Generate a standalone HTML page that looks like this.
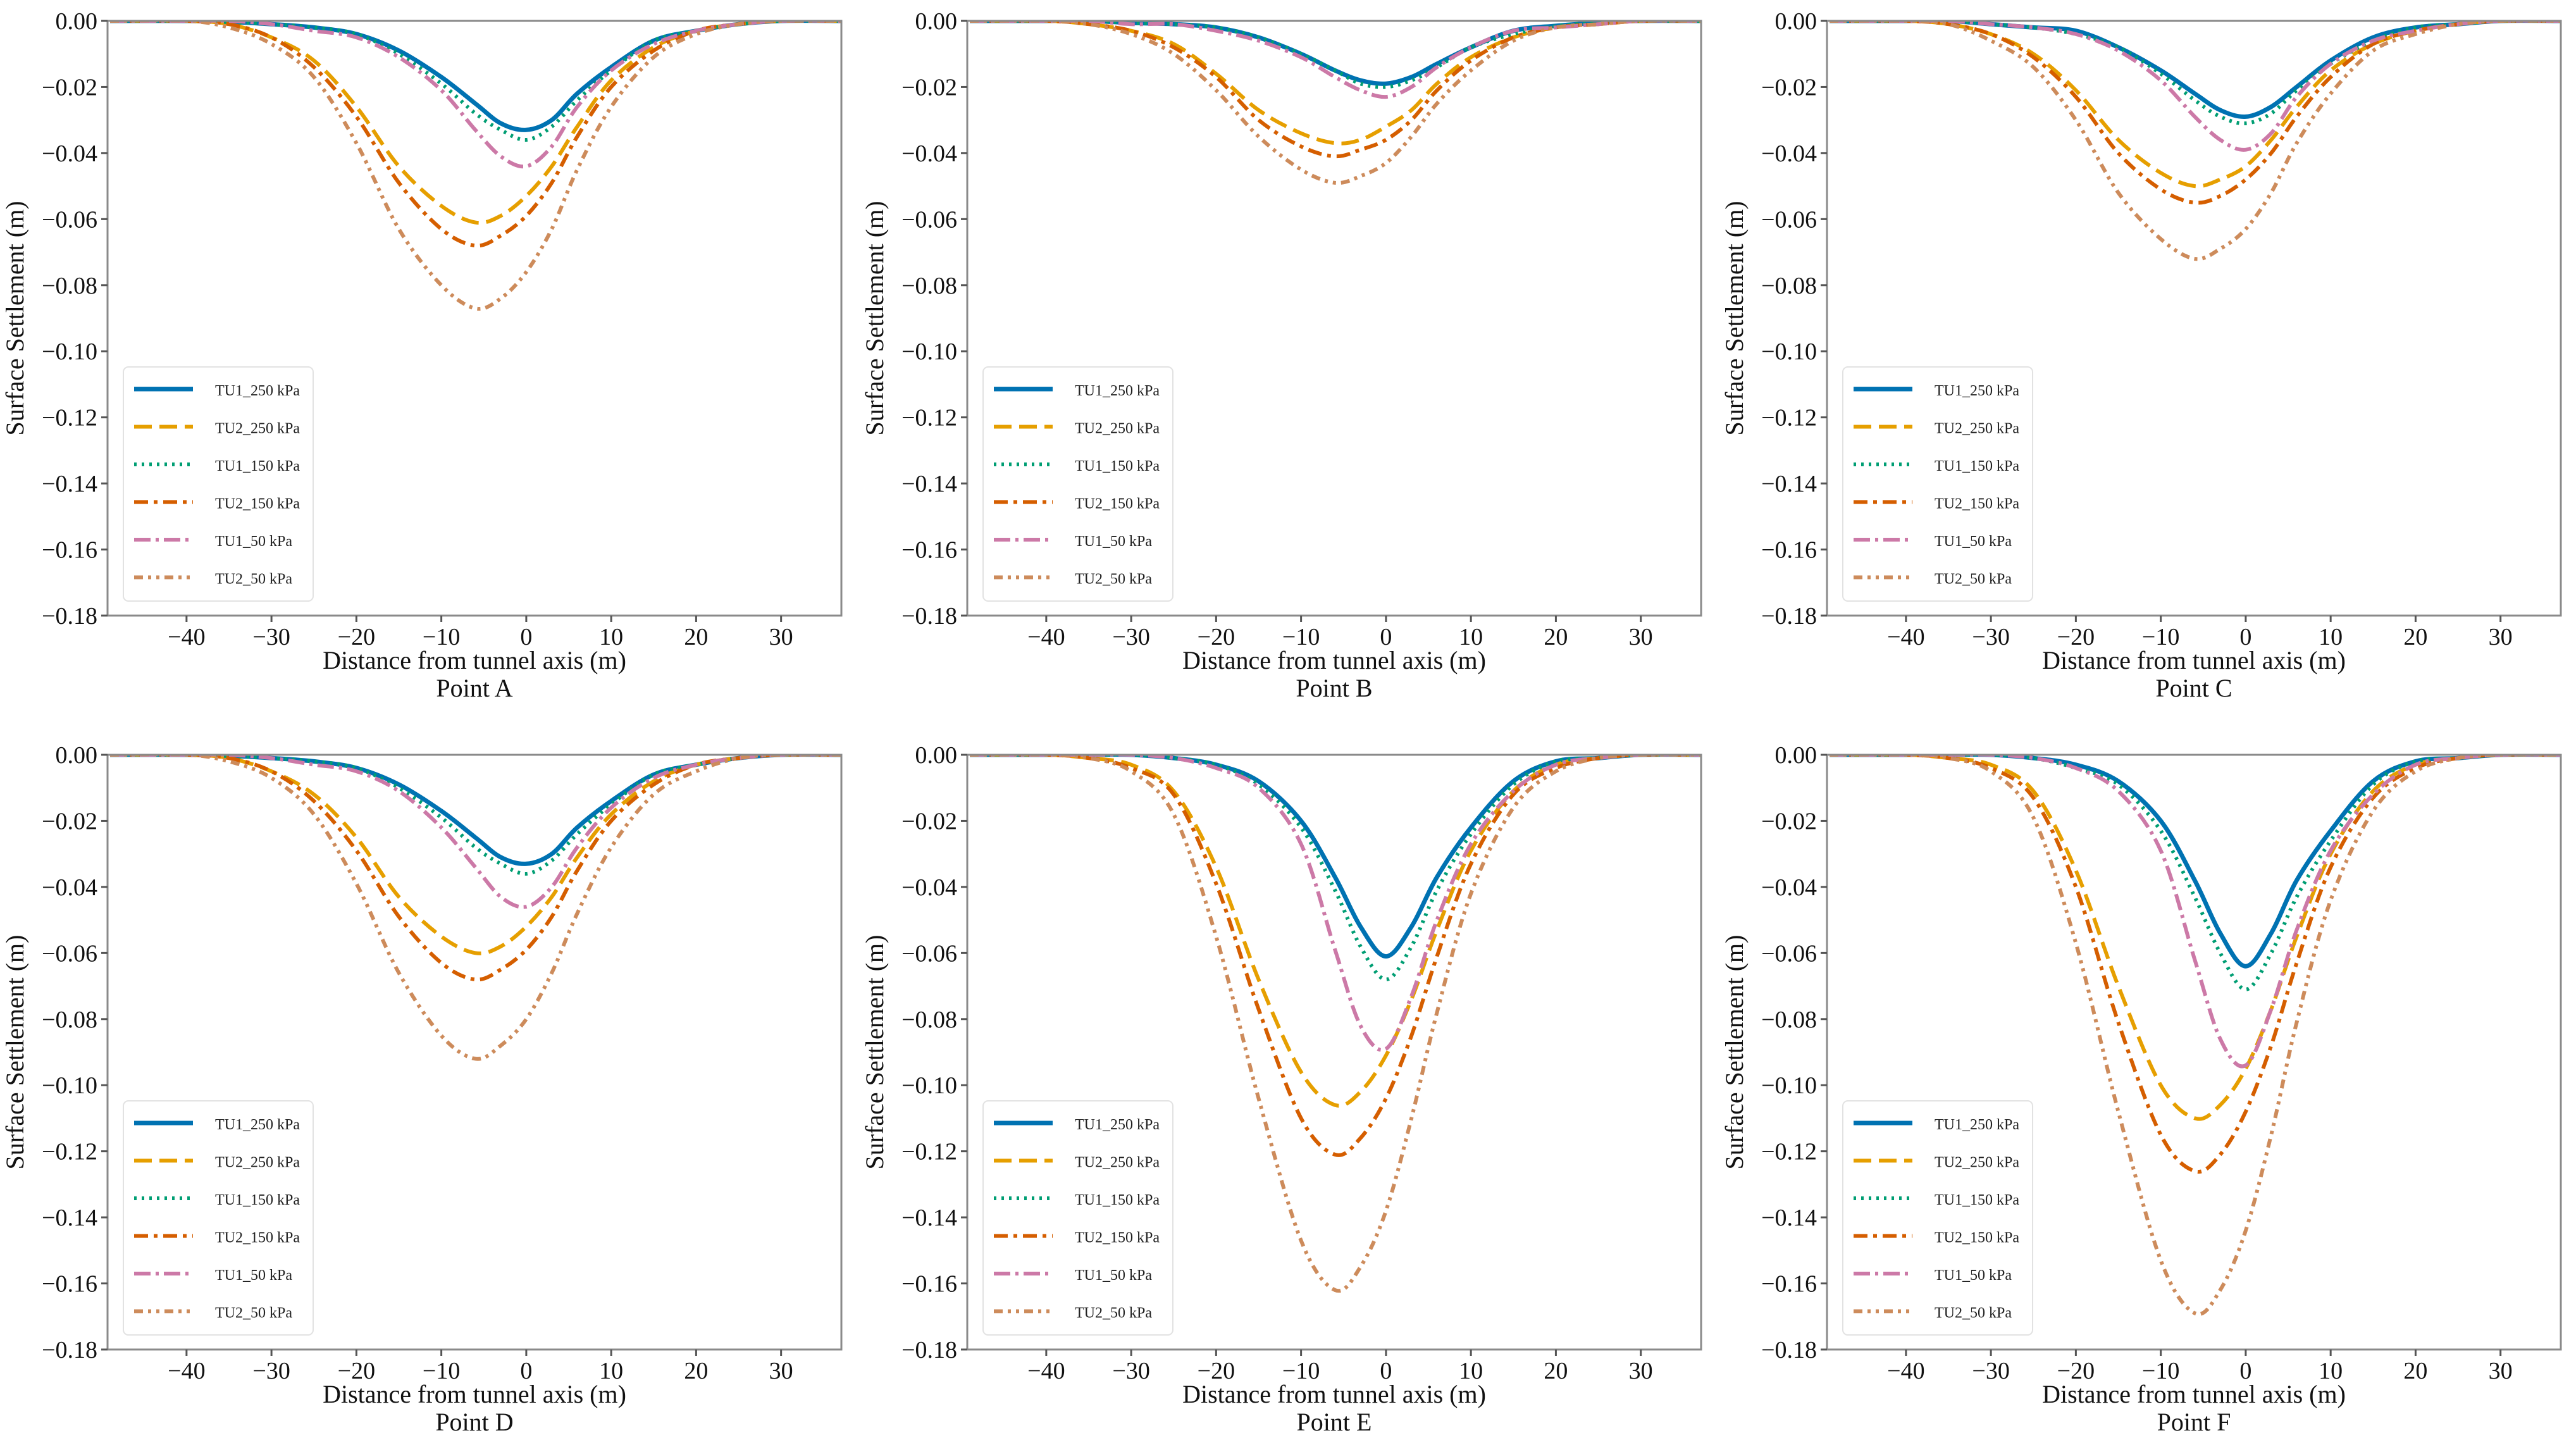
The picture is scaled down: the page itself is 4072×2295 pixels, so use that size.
<!DOCTYPE html>
<html><head><meta charset="utf-8"><style>
html,body{margin:0;padding:0;background:#fff;}
svg{display:block;font-family:"Liberation Serif",serif;}
</style></head>
<body>
<svg id="fig" width="4072" height="2295" viewBox="0 0 4072 2295" xmlns="http://www.w3.org/2000/svg"></svg>
<script>
const xs = [-49,-40,-35,-30,-25,-20,-15,-10,-6,-3,0,3,6,10,15,20,25,30,37];
const seriesNames = ["TU1_250 kPa","TU2_250 kPa","TU1_150 kPa","TU2_150 kPa","TU1_50 kPa","TU2_50 kPa"];
const panelTitles = ["Point A","Point B","Point C","Point D","Point E","Point F"];
const xTicks = [-40,-30,-20,-10,0,10,20,30];
const yTicks = [0,-0.02,-0.04,-0.06,-0.08,-0.10,-0.12,-0.14,-0.16,-0.18];
const yTickLabels = ["0.00","\u22120.02","\u22120.04","\u22120.06","\u22120.08","\u22120.10","\u22120.12","\u22120.14","\u22120.16","\u22120.18"];

const pointA_TU1_250 = [0,0,-0.0003,-0.001,-0.002,-0.004,-0.009,-0.017,-0.025,-0.031,-0.033,-0.030,-0.022,-0.014,-0.006,-0.003,-0.001,0,0];
const pointA_TU2_250 = [0,0,-0.001,-0.005,-0.012,-0.026,-0.044,-0.056,-0.061,-0.059,-0.053,-0.044,-0.032,-0.018,-0.008,-0.003,-0.001,0,0];
const pointA_TU1_150 = [0,0,-0.0004,-0.001,-0.002,-0.004,-0.010,-0.019,-0.028,-0.033,-0.036,-0.032,-0.024,-0.015,-0.006,-0.003,-0.001,0,0];
const pointA_TU2_150 = [0,0,-0.001,-0.005,-0.014,-0.029,-0.049,-0.063,-0.068,-0.065,-0.059,-0.049,-0.035,-0.020,-0.009,-0.003,-0.001,0,0];
const pointA_TU1_50 = [0,0,0,-0.001,-0.003,-0.005,-0.011,-0.021,-0.033,-0.041,-0.044,-0.038,-0.026,-0.015,-0.007,-0.003,-0.001,0,0];
const pointA_TU2_50 = [0,0,-0.002,-0.007,-0.017,-0.037,-0.063,-0.080,-0.087,-0.084,-0.076,-0.063,-0.045,-0.026,-0.011,-0.004,-0.001,0,0];

const pointB_TU1_250 = [0,0,0,-0.0006,-0.001,-0.002,-0.005,-0.010,-0.015,-0.018,-0.019,-0.017,-0.013,-0.008,-0.003,-0.0015,-0.0006,0,0];
const pointB_TU2_250 = [0,0,-0.001,-0.003,-0.007,-0.016,-0.027,-0.034,-0.037,-0.036,-0.032,-0.027,-0.019,-0.011,-0.005,-0.002,-0.001,0,0];
const pointB_TU1_150 = [0,0,0,-0.0006,-0.001,-0.002,-0.005,-0.010,-0.015,-0.019,-0.020,-0.018,-0.014,-0.008,-0.004,-0.0016,-0.0006,0,0];
const pointB_TU2_150 = [0,0,-0.001,-0.003,-0.008,-0.017,-0.030,-0.038,-0.041,-0.039,-0.036,-0.030,-0.021,-0.012,-0.005,-0.002,-0.001,0,0];
const pointB_TU1_50 = [0,0,0,-0.001,-0.001,-0.003,-0.006,-0.011,-0.017,-0.021,-0.023,-0.020,-0.014,-0.008,-0.003,-0.002,-0.001,0,0];
const pointB_TU2_50 = [0,0,-0.001,-0.004,-0.010,-0.021,-0.035,-0.045,-0.049,-0.047,-0.043,-0.035,-0.025,-0.015,-0.006,-0.002,-0.001,0,0];

const pointC_TU1_250 = [0,0,0,-0.001,-0.002,-0.003,-0.008,-0.015,-0.022,-0.027,-0.029,-0.026,-0.020,-0.012,-0.005,-0.002,-0.001,0,0];
const pointC_TU2_250 = [0,0,-0.001,-0.004,-0.010,-0.021,-0.036,-0.046,-0.050,-0.048,-0.044,-0.036,-0.026,-0.015,-0.007,-0.003,-0.001,0,0];
const pointC_TU1_150 = [0,0,0,-0.001,-0.002,-0.004,-0.008,-0.016,-0.024,-0.029,-0.031,-0.028,-0.021,-0.013,-0.006,-0.002,-0.001,0,0];
const pointC_TU2_150 = [0,0,-0.001,-0.004,-0.011,-0.023,-0.040,-0.051,-0.055,-0.053,-0.048,-0.040,-0.029,-0.017,-0.007,-0.003,-0.001,0,0];
const pointC_TU1_50 = [0,0,0,-0.001,-0.002,-0.004,-0.009,-0.018,-0.029,-0.036,-0.039,-0.034,-0.023,-0.013,-0.006,-0.003,-0.001,0,0];
const pointC_TU2_50 = [0,0,-0.001,-0.006,-0.014,-0.030,-0.052,-0.066,-0.072,-0.069,-0.063,-0.052,-0.037,-0.022,-0.009,-0.004,-0.001,0,0];

const pointD_TU1_250 = [0,0,-0.0003,-0.001,-0.002,-0.004,-0.009,-0.017,-0.025,-0.031,-0.033,-0.030,-0.022,-0.014,-0.006,-0.003,-0.001,0,0];
const pointD_TU2_250 = [0,0,-0.001,-0.005,-0.012,-0.025,-0.043,-0.055,-0.060,-0.058,-0.052,-0.043,-0.031,-0.018,-0.008,-0.003,-0.001,0,0];
const pointD_TU1_150 = [0,0,-0.0004,-0.001,-0.002,-0.004,-0.010,-0.019,-0.028,-0.033,-0.036,-0.032,-0.024,-0.015,-0.006,-0.003,-0.001,0,0];
const pointD_TU2_150 = [0,0,-0.001,-0.005,-0.014,-0.029,-0.049,-0.063,-0.068,-0.065,-0.059,-0.049,-0.035,-0.020,-0.009,-0.003,-0.001,0,0];
const pointD_TU1_50 = [0,0,0,-0.001,-0.003,-0.005,-0.011,-0.022,-0.034,-0.043,-0.046,-0.040,-0.028,-0.016,-0.007,-0.003,-0.001,0,0];
const pointD_TU2_50 = [0,0,-0.002,-0.007,-0.018,-0.039,-0.066,-0.085,-0.092,-0.088,-0.080,-0.066,-0.048,-0.028,-0.012,-0.005,-0.001,0,0];

const pointE_TU1_250 = [0,0,0,0,-0.001,-0.003,-0.008,-0.020,-0.037,-0.052,-0.061,-0.052,-0.037,-0.022,-0.008,-0.002,-0.001,0,0];
const pointE_TU2_250 = [0,0,-0.001,-0.003,-0.011,-0.034,-0.068,-0.096,-0.106,-0.102,-0.091,-0.074,-0.053,-0.029,-0.011,-0.003,-0.001,0,0];
const pointE_TU1_150 = [0,0,0,0,-0.001,-0.003,-0.009,-0.022,-0.041,-0.058,-0.068,-0.058,-0.041,-0.024,-0.009,-0.002,-0.001,0,0];
const pointE_TU2_150 = [0,0,-0.001,-0.004,-0.012,-0.039,-0.077,-0.110,-0.121,-0.116,-0.104,-0.085,-0.061,-0.033,-0.012,-0.004,-0.001,0,0];
const pointE_TU1_50 = [0,0,0,0,-0.001,-0.004,-0.010,-0.027,-0.059,-0.082,-0.089,-0.073,-0.050,-0.027,-0.011,-0.003,-0.001,0,0];
const pointE_TU2_50 = [0,0,-0.001,-0.005,-0.018,-0.055,-0.104,-0.147,-0.162,-0.155,-0.138,-0.110,-0.078,-0.042,-0.016,-0.005,-0.001,0,0];

const pointF_TU1_250 = [0,0,0,0,-0.001,-0.003,-0.008,-0.020,-0.038,-0.054,-0.064,-0.054,-0.038,-0.023,-0.008,-0.002,-0.001,0,0];
const pointF_TU2_250 = [0,0,-0.001,-0.003,-0.011,-0.035,-0.070,-0.100,-0.110,-0.106,-0.095,-0.077,-0.055,-0.030,-0.011,-0.003,-0.001,0,0];
const pointF_TU1_150 = [0,0,0,0,-0.001,-0.004,-0.009,-0.023,-0.043,-0.060,-0.071,-0.060,-0.043,-0.026,-0.009,-0.002,-0.001,0,0];
const pointF_TU2_150 = [0,0,-0.001,-0.004,-0.013,-0.040,-0.081,-0.115,-0.126,-0.121,-0.108,-0.088,-0.063,-0.034,-0.013,-0.004,-0.001,0,0];
const pointF_TU1_50 = [0,0,0,0,-0.001,-0.004,-0.011,-0.029,-0.062,-0.086,-0.094,-0.077,-0.053,-0.029,-0.012,-0.003,-0.001,0,0];
const pointF_TU2_50 = [0,0,-0.001,-0.005,-0.019,-0.057,-0.108,-0.153,-0.169,-0.162,-0.144,-0.115,-0.081,-0.044,-0.017,-0.005,-0.001,0,0];

const panelsData = [
 [pointA_TU1_250,pointA_TU2_250,pointA_TU1_150,pointA_TU2_150,pointA_TU1_50,pointA_TU2_50],
 [pointB_TU1_250,pointB_TU2_250,pointB_TU1_150,pointB_TU2_150,pointB_TU1_50,pointB_TU2_50],
 [pointC_TU1_250,pointC_TU2_250,pointC_TU1_150,pointC_TU2_150,pointC_TU1_50,pointC_TU2_50],
 [pointD_TU1_250,pointD_TU2_250,pointD_TU1_150,pointD_TU2_150,pointD_TU1_50,pointD_TU2_50],
 [pointE_TU1_250,pointE_TU2_250,pointE_TU1_150,pointE_TU2_150,pointE_TU1_50,pointE_TU2_50],
 [pointF_TU1_250,pointF_TU2_250,pointF_TU1_150,pointF_TU2_150,pointF_TU1_50,pointF_TU2_50]
];

const styles = [
 {c:"#0072B2",w:7,d:""},
 {c:"#E69F00",w:6,d:"28 12"},
 {c:"#009E73",w:6,d:"4 8"},
 {c:"#D55E00",w:6,d:"22 9 6 9"},
 {c:"#CC79A7",w:6,d:"26 8 5 8"},
 {c:"#CD8B5B",w:6,d:"14 8 5 8 5 8"}
];

const NS="http://www.w3.org/2000/svg";
const svg=document.getElementById('fig');
function mk(tag,attrs,parent){const e=document.createElementNS(NS,tag);for(const k in attrs)e.setAttribute(k,attrs[k]);(parent||svg).appendChild(e);return e;}

const W=1160,H=940,XMIN=-49.3,XMAX=37.1,YMIN=-0.18,YMAX=0;
const colX=[170,1529,2888], rowY=[33,1193];

panelsData.forEach((series,pi)=>{
  const ox=colX[pi%3], oy=rowY[Math.floor(pi/3)];
  const g=mk('g',{});
  
  
  const sx=v=>ox+(v-XMIN)/(XMAX-XMIN)*W;
  const sy=v=>oy+(YMAX-v)/(YMAX-YMIN)*H;
  // clip
  const cp=mk('clipPath',{id:'clip'+pi},g);
  mk('rect',{x:ox,y:oy,width:W,height:H},cp);
  // series
  series.forEach((vals,si)=>{
    const pts=xs.map((x,i)=>[sx(x),sy(vals[i])]);
    let d='M'+pts[0][0].toFixed(1)+','+pts[0][1].toFixed(1);
    for(let i=0;i<pts.length-1;i++){
      const p0=pts[Math.max(0,i-1)],p1=pts[i],p2=pts[i+1],p3=pts[Math.min(pts.length-1,i+2)];
      const c1x=p1[0]+(p2[0]-p0[0])/6,c1y=p1[1]+(p2[1]-p0[1])/6;
      const c2x=p2[0]-(p3[0]-p1[0])/6,c2y=p2[1]-(p3[1]-p1[1])/6;
      d+=' C'+c1x.toFixed(1)+','+c1y.toFixed(1)+' '+c2x.toFixed(1)+','+c2y.toFixed(1)+' '+p2[0].toFixed(1)+','+p2[1].toFixed(1);
    }
    const st=styles[si];
    const p=mk('path',{d:d,fill:'none',stroke:st.c,'stroke-width':st.w,'stroke-dasharray':st.d,'clip-path':'url(#clip'+pi+')'},g);
    
    
  });
  // frame
  const fr=mk('rect',{x:ox,y:oy,width:W,height:H,fill:'none',stroke:'#8a8a8a','stroke-width':3},g);
  
  
  // y ticks
  yTicks.forEach((v,i)=>{
    const y=sy(v);
    mk('line',{x1:ox-10,x2:ox,y1:y,y2:y,stroke:'#555','stroke-width':3},g);
    const t=mk('text',{x:ox-16,y:y+13,'text-anchor':'end','font-size':38,fill:'#111'},g);
    t.textContent=yTickLabels[i];
    
    
  });
  xTicks.forEach(v=>{
    const x=sx(v);
    mk('line',{x1:x,x2:x,y1:oy+H,y2:oy+H+10,stroke:'#555','stroke-width':3},g);
    const t=mk('text',{x:x,y:oy+H+46,'text-anchor':'middle','font-size':38,fill:'#111'},g);
    t.textContent=(v<0?'\u2212'+(-v):String(v));
    
    
  });
  const xl=mk('text',{x:ox+W/2,y:oy+H+84,'text-anchor':'middle','font-size':40,fill:'#111'},g);
  xl.textContent='Distance from tunnel axis (m)';
  
  
  const pt=mk('text',{x:ox+W/2,y:oy+H+128,'text-anchor':'middle','font-size':40,fill:'#111'},g);
  pt.textContent=panelTitles[pi];
  
  
  const yl=mk('text',{x:0,y:0,'text-anchor':'middle','font-size':40,fill:'#111',transform:'translate('+(ox-133)+','+(oy+H/2)+') rotate(-90)'},g);
  yl.textContent='Surface Settlement (m)';
  
  
  // legend
  const lg=mk('g',{},g);
  
  
  mk('rect',{x:ox+25,y:oy+547,width:300,height:370,rx:8,fill:'#fff',stroke:'#e2e2e2','stroke-width':2},lg);
  seriesNames.forEach((n,si)=>{
    const y=oy+582+si*59.5;
    const st=styles[si];
    const ln=mk('line',{x1:ox+42,x2:ox+135,y1:y,y2:y,stroke:st.c,'stroke-width':st.w,'stroke-dasharray':st.d},lg);
    
    
    const t=mk('text',{x:ox+170,y:y+10,'font-size':24,fill:'#222'},lg);
    t.textContent=n;
    
    
  });
});
</script>
</body></html>
